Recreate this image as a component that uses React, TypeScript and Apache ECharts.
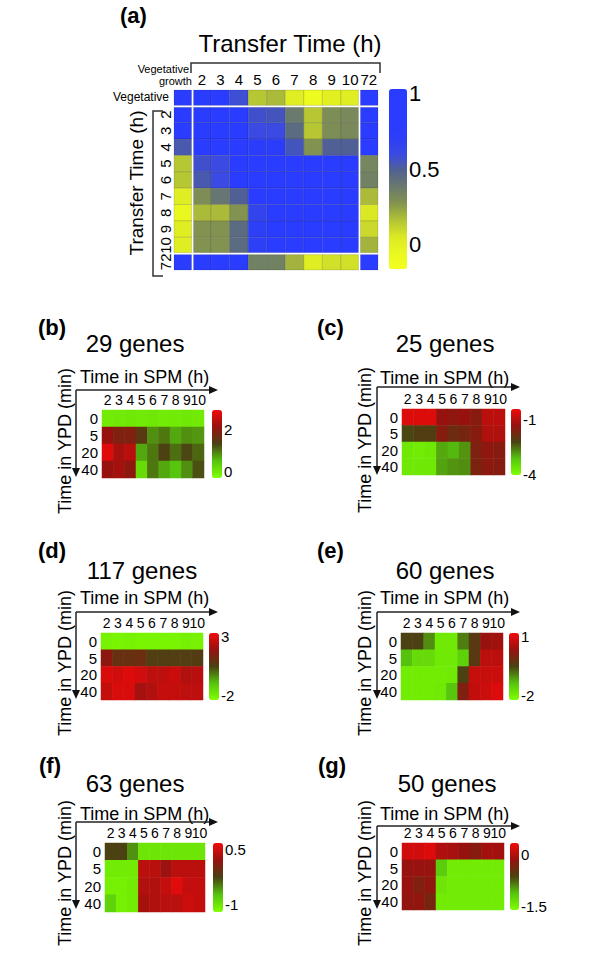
import React, { useEffect, useRef } from 'react';
import * as echarts from 'echarts';

// ---------- Panel (a): correlation between transfer times ----------
const transferLabels = ['Vegetative', '2', '3', '4', '5', '6', '7', '8', '9', '10', '72'];
const corrVegetative = [1.0, 0.95, 0.95, 0.58, 0.15, 0.18, 0.02, -0.1, 0.0, 0.02, 0.95];
const corr2 = [0.95, 1.0, 1.0, 1.0, 0.57, 0.55, 0.38, 0.15, 0.3, 0.32, 0.97];
const corr3 = [0.95, 1.0, 1.0, 1.0, 0.6, 0.6, 0.45, 0.15, 0.3, 0.32, 0.97];
const corr4 = [0.53, 0.97, 0.97, 0.97, 0.75, 0.75, 0.55, 0.28, 0.5, 0.5, 0.97];
const corr5 = [0.15, 0.57, 0.6, 0.9, 1.0, 0.98, 0.95, 0.85, 0.9, 0.9, 0.33];
const corr6 = [0.15, 0.53, 0.6, 0.93, 0.98, 1.0, 0.97, 0.93, 0.93, 0.93, 0.35];
const corr7 = [0.02, 0.3, 0.4, 0.5, 0.93, 0.97, 1.0, 0.97, 0.95, 0.95, 0.18];
const corr8 = [-0.05, 0.18, 0.18, 0.28, 0.65, 0.93, 0.97, 1.0, 0.97, 0.95, 0.05];
const corr9 = [0.02, 0.28, 0.28, 0.45, 0.7, 0.93, 0.95, 0.97, 1.0, 0.97, 0.1];
const corr10 = [0.02, 0.28, 0.28, 0.45, 0.7, 0.93, 0.95, 0.95, 0.97, 1.0, 0.2];
const corr72 = [0.95, 0.95, 0.95, 0.95, 0.35, 0.35, 0.2, 0.02, 0.08, 0.08, 1.0];
const corrRows = [corrVegetative, corr2, corr3, corr4, corr5, corr6, corr7, corr8, corr9, corr10, corr72];
const corrMin = -0.16;
const corrMax = 1.03;
const corrTicks = [0, 0.5, 1];

// ---------- Panels (b)-(g): cluster mean expression ----------
const spmHours = ['2', '3', '4', '5', '6', '7', '8', '9', '10'];
const ypdMinutes = ['0', '5', '20', '40'];

const genesB = [
  [-0.02, 0.0, 0.02, 0.0, 0.03, -0.02, 0.0, 0.02, 0.0],
  [2.15, 1.9, 1.9, 1.5, 0.85, 1.0, 0.7, 0.85, 0.8],
  [2.8, 2.3, 2.45, 0.7, 1.0, 1.35, 1.05, 1.3, 1.1],
  [2.15, 2.25, 2.05, 0.2, 1.0, 0.7, 0.5, 0.85, 1.25],
];
const genesC = [
  [-0.6, -0.6, -0.6, -1.3, -1.4, -1.3, -1.5, -0.95, -0.95],
  [-2.25, -2.15, -2.15, -1.5, -1.8, -1.7, -1.5, -1.05, -1.05],
  [-3.7, -3.75, -3.7, -2.95, -3.05, -2.8, -1.6, -1.4, -1.5],
  [-3.7, -3.7, -3.7, -2.9, -2.8, -2.75, -1.65, -1.45, -1.5],
];
const genesD = [
  [-2.05, -2.1, -2.05, -2.1, -2.1, -2.1, -2.1, -2.0, -2.05],
  [1.7, 1.0, 1.0, 1.1, 0.6, 0.6, 0.6, 0.6, 0.65],
  [2.9, 2.8, 3.0, 2.8, 2.5, 2.5, 2.7, 2.3, 2.4],
  [2.6, 2.9, 2.9, 2.1, 2.3, 2.6, 2.6, 2.5, 2.5],
];
const genesE = [
  [-0.5, -0.5, -1.0, -1.9, -1.9, -0.9, -0.35, 0.35, 0.45],
  [-1.35, -1.7, -1.7, -1.9, -1.9, -1.55, -0.35, 0.7, 0.7],
  [-1.95, -1.95, -1.95, -1.95, -1.9, -0.5, 0.8, 0.8, 0.85],
  [-1.95, -1.95, -1.95, -1.9, -1.4, 0.1, 0.75, 0.85, 1.0],
];
const genesF = [
  [-0.25, -0.25, -0.55, -1.0, -1.0, -1.0, -1.0, -1.0, -1.0],
  [-1.05, -1.05, -1.05, 0.4, 0.4, 0.25, 0.4, 0.4, 0.4],
  [-1.1, -1.1, -1.05, 0.35, 0.35, 0.45, 0.6, 0.45, 0.45],
  [-0.85, -1.1, -1.05, 0.3, 0.35, 0.4, 0.4, 0.5, 0.45],
];
const genesG = [
  [0.15, 0.15, 0.22, -0.03, -0.07, -0.16, -0.25, -0.1, -0.1],
  [-0.15, -0.15, -0.15, -1.2, -1.45, -1.45, -1.45, -1.45, -1.45],
  [-0.15, -0.3, -0.2, -1.4, -1.45, -1.45, -1.45, -1.45, -1.45],
  [-0.2, -0.2, -0.35, -1.45, -1.45, -1.45, -1.45, -1.45, -1.45],
];
const panelValues = [genesB, genesC, genesD, genesE, genesF, genesG];
const panelLetters = ['(b)', '(c)', '(d)', '(e)', '(f)', '(g)'];
const panelTitles = ['29 genes', '25 genes', '117 genes', '60 genes', '63 genes', '50 genes'];
const scaleMins = [-0.29, -4.05, -2.35, -2.22, -1.21, -1.61];
const scaleMaxs = [2.95, -0.4, 3.3, 1.2, 0.69, 0.32];
const scaleTicks = [[0, 2], [-4, -1], [-2, 3], [-2, 1], [-1, 0.5], [-1.5, 0]];

// ---------- layout & style (not data) ----------
const FONT = '"Liberation Sans", Arial, Helvetica, sans-serif';
const yellowBlue = [
  '#f2ff1e', '#eaf820', '#dae824', '#b2c236', '#84944e', '#6a7a6c',
  '#52628e', '#3a4ae2', '#2c3ef8', '#2a3cff', '#2a3cff', '#2a3cff',
];
const greenRed = ['#80ff00', '#56c40e', '#4a4212', '#96120f', '#f00a0a'];

const layouts = [
  { lx: 38, ly: 327, tx: 135, ty: 343, sx: 80, sy: 377, ax: 76, ay: 390, ax2: 218, ay2: 477, hm: [102, 410, 102, 68], cb: [212, 410, 10, 68], yx: 65, yy: 441 },
  { lx: 317, ly: 327, tx: 445, ty: 343, sx: 380, sy: 378, ax: 377, ay: 387, ax2: 520, ay2: 475, hm: [402, 409, 103, 66], cb: [511, 409, 10, 66], yx: 365, yy: 440 },
  { lx: 38, ly: 550, tx: 142, ty: 570, sx: 80, sy: 598, ax: 76, ay: 612, ax2: 218, ay2: 699, hm: [101, 633, 102, 67], cb: [209, 633, 10, 67], yx: 65, yy: 663 },
  { lx: 317, ly: 550, tx: 445, ty: 570, sx: 380, sy: 598, ax: 377, ay: 612, ax2: 520, ay2: 699, hm: [401, 633, 102, 67], cb: [509, 633, 10, 67], yx: 365, yy: 663 },
  { lx: 39, ly: 765, tx: 135, ty: 783, sx: 80, sy: 814, ax: 76, ay: 822, ax2: 218, ay2: 909, hm: [105, 843, 100, 69], cb: [213, 843, 10, 69], yx: 65, yy: 873 },
  { lx: 318, ly: 765, tx: 447, ty: 783, sx: 380, sy: 814, ax: 377, ay: 826, ax2: 520, ay2: 909, hm: [402, 843, 102, 67], cb: [510, 843, 9, 67], yx: 365, yy: 873 },
];

function txt(text: string, x: number, y: number, size: number, opts: any = {}) {
  return {
    type: 'text',
    x,
    y,
    rotation: opts.rot || 0,
    silent: true,
    style: {
      text,
      fontSize: size,
      fontFamily: FONT,
      fontWeight: opts.bold ? 'bold' : 'normal',
      fill: '#000',
      align: opts.align || 'center',
      verticalAlign: 'middle',
    },
  };
}

function arrowH(x1: number, x2: number, y: number) {
  return [
    { type: 'line', silent: true, shape: { x1, y1: y, x2: x2 - 6, y2: y }, style: { stroke: '#222', lineWidth: 1.5 } },
    { type: 'polygon', silent: true, shape: { points: [[x2 - 9, y - 4], [x2, y], [x2 - 9, y + 4]] }, style: { fill: '#111' } },
  ];
}
function arrowV(x: number, y1: number, y2: number) {
  return [
    { type: 'line', silent: true, shape: { x1: x, y1, x2: x, y2: y2 - 6 }, style: { stroke: '#222', lineWidth: 1.5 } },
    { type: 'polygon', silent: true, shape: { points: [[x - 4, y2 - 9], [x, y2], [x + 4, y2 - 9]] }, style: { fill: '#111' } },
  ];
}

const noAxis = { axisLine: { show: false }, axisTick: { show: false }, splitLine: { show: false } };

function buildOption() {
  const grids: any[] = [];
  const xAxes: any[] = [];
  const yAxes: any[] = [];
  const series: any[] = [];
  const extraSeries: any[] = [];
  const visualMaps: any[] = [];
  const graphics: any[] = [];

  // ----- panel (a) -----
  grids.push({ left: 174, top: 90, width: 204, height: 180 });
  const hideVeg = (v: string) => (v === 'Vegetative' ? '' : v);
  xAxes.push({
    type: 'category', gridIndex: 0, data: transferLabels, position: 'top', ...noAxis,
    axisLabel: { interval: 0, fontSize: 15, margin: 3, color: '#000', fontFamily: FONT, formatter: hideVeg },
  });
  yAxes.push({
    type: 'category', gridIndex: 0, data: transferLabels, inverse: true, ...noAxis,
    axisLabel: { interval: 0, rotate: 90, fontSize: 15, margin: 1, color: '#000', fontFamily: FONT, formatter: hideVeg },
  });
  const aData: number[][] = [];
  corrRows.forEach((row, yi) => row.forEach((v, xi) => aData.push([xi, yi, v])));
  const last = transferLabels.length - 1;
  series.push({
    type: 'custom',
    xAxisIndex: 0,
    yAxisIndex: 0,
    silent: true,
    encode: { x: 0, y: 1 },
    data: aData,
    renderItem: (params: any, api: any) => {
      const xi = api.value(0);
      const yi = api.value(1);
      const c = api.coord([xi, yi]);
      const s = api.size([1, 1]);
      let x0 = c[0] - s[0] / 2;
      let x1 = c[0] + s[0] / 2;
      let y0 = c[1] - s[1] / 2;
      let y1 = c[1] + s[1] / 2;
      const g = 1;
      if (xi === 0 || xi === last - 1) x1 -= g;
      if (xi === 1 || xi === last) x0 += g;
      if (yi === 0 || yi === last - 1) y1 -= g;
      if (yi === 1 || yi === last) y0 += g;
      return {
        type: 'rect',
        shape: { x: x0, y: y0, width: x1 - x0, height: y1 - y0 },
        style: { fill: api.visual('color'), stroke: 'rgba(0,0,0,0.22)', lineWidth: 0.6 },
      };
    },
  });
  grids.push({ left: 389, top: 89, width: 18, height: 180 });
  xAxes.push({ type: 'value', gridIndex: 1, show: false });
  yAxes.push({
    type: 'value', gridIndex: 1, min: corrMin, max: corrMax, position: 'right', ...noAxis,
    axisLabel: { customValues: corrTicks, fontSize: 22, margin: 2, color: '#000', fontFamily: FONT },
  });
  extraSeries.push({ type: 'scatter', xAxisIndex: 1, yAxisIndex: 1, data: [] });
  visualMaps.push({
    type: 'continuous', seriesIndex: 0, dimension: 2, min: corrMin, max: corrMax,
    inRange: { color: yellowBlue }, orient: 'vertical', left: 389, top: 89,
    itemWidth: 18, itemHeight: 180, calculable: false, padding: 0, hoverLink: false,
  });

  graphics.push(txt('(a)', 120, 15, 22, { bold: true, align: 'left' }));
  graphics.push(txt('Transfer Time (h)', 290, 43, 24));
  graphics.push(txt('Transfer Time (h)', 136, 183, 19, { rot: Math.PI / 2 }));
  graphics.push(txt('Vegetative', 189, 69, 11, { align: 'right' }));
  graphics.push(txt('growth', 192, 81, 11, { align: 'right' }));
  graphics.push(txt('Vegetative', 169, 97, 12, { align: 'right' }));
  graphics.push({ type: 'polyline', silent: true, shape: { points: [[191, 73], [191, 63], [380, 63], [380, 73]] }, style: { stroke: '#333', lineWidth: 1.5, fill: 'none' } });
  graphics.push({ type: 'polyline', silent: true, shape: { points: [[163, 111], [153, 111], [153, 276], [163, 276]] }, style: { stroke: '#333', lineWidth: 1.5, fill: 'none' } });

  // ----- panels (b)-(g) -----
  panelValues.forEach((vals, i) => {
    const L = layouts[i];
    const gi = grids.length;
    grids.push({ left: L.hm[0], top: L.hm[1], width: L.hm[2], height: L.hm[3] });
    xAxes.push({
      type: 'category', gridIndex: gi, data: spmHours, position: 'top', ...noAxis,
      axisLabel: { interval: 0, fontSize: 14, margin: 3, color: '#000', fontFamily: FONT },
    });
    yAxes.push({
      type: 'category', gridIndex: gi, data: ypdMinutes, inverse: true, ...noAxis,
      axisLabel: { interval: 0, fontSize: 15, margin: 4, color: '#000', fontFamily: FONT },
    });
    const d: number[][] = [];
    vals.forEach((row, yi) => row.forEach((v, xi) => d.push([xi, yi, v])));
    const si = series.length;
    series.push({
      type: 'heatmap', xAxisIndex: gi, yAxisIndex: gi, data: d, silent: true,
      itemStyle: { borderWidth: 0 }, emphasis: { disabled: true },
    });
    const ci = grids.length;
    grids.push({ left: L.cb[0], top: L.cb[1], width: L.cb[2], height: L.cb[3] });
    xAxes.push({ type: 'value', gridIndex: ci, show: false });
    yAxes.push({
      type: 'value', gridIndex: ci, min: scaleMins[i], max: scaleMaxs[i], position: 'right', ...noAxis,
      axisLabel: { customValues: scaleTicks[i], fontSize: 15, margin: 2, color: '#000', fontFamily: FONT },
    });
    extraSeries.push({ type: 'scatter', xAxisIndex: ci, yAxisIndex: ci, data: [] });
    visualMaps.push({
      type: 'continuous', seriesIndex: si, dimension: 2, min: scaleMins[i], max: scaleMaxs[i],
      inRange: { color: greenRed }, orient: 'vertical', left: L.cb[0], top: L.cb[1],
      itemWidth: L.cb[2], itemHeight: L.cb[3], calculable: false, padding: 0, hoverLink: false,
    });

    graphics.push(txt(panelLetters[i], L.lx, L.ly, 22, { bold: true, align: 'left' }));
    graphics.push(txt(panelTitles[i], L.tx, L.ty, 24));
    graphics.push(txt('Time in SPM (h)', L.sx, L.sy, 18, { align: 'left' }));
    graphics.push(txt('Time in YPD (min)', L.yx, L.yy, 18, { rot: Math.PI / 2 }));
    graphics.push(...arrowH(L.ax, L.ax2, L.ay));
    graphics.push(...arrowV(L.ax, L.ay, L.ay2));
  });

  return {
    animation: false,
    backgroundColor: '#fff',
    grid: grids,
    xAxis: xAxes,
    yAxis: yAxes,
    visualMap: visualMaps,
    series: [...series, ...extraSeries],
    graphic: graphics,
  };
}

export default function App() {
  const ref = useRef<HTMLDivElement>(null);
  useEffect(() => {
    if (!ref.current) return;
    const chart = echarts.init(ref.current, null, { renderer: 'svg' });
    chart.setOption(buildOption() as any);
    return () => chart.dispose();
  }, []);
  return (
    <div
      ref={ref}
      style={{ position: 'absolute', left: 0, top: 0, width: 600, height: 961, background: '#fff' }}
    />
  );
}
